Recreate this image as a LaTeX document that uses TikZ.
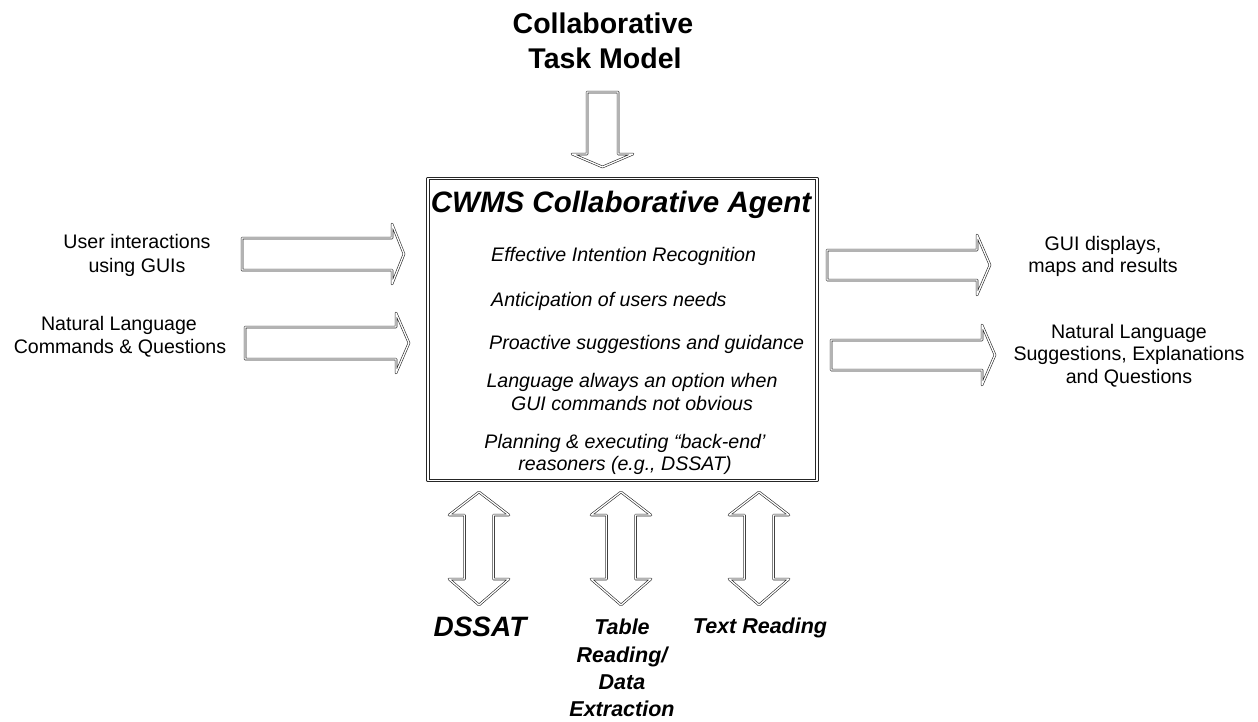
\documentclass[tikz,border=0pt]{standalone}
\usepackage{fontspec}
\setmainfont{Liberation Sans}
\begin{document}
\begin{tikzpicture}[x=1pt,y=-1pt,
  blk/.style={draw=black!85, line width=0.6pt, double=white, double distance=1.3pt, line join=round},
  reg/.style={anchor=base, inner sep=0pt, font=\fontsize{19.6}{22}\selectfont},
  itm/.style={anchor=base west, inner sep=0pt, font=\fontsize{19.6}{22}\selectfont\itshape},
  itc/.style={anchor=base, inner sep=0pt, font=\fontsize{19.6}{22}\selectfont\itshape},
  bl/.style={anchor=base, inner sep=0pt, font=\fontsize{21.5}{26}\selectfont\bfseries\itshape}]
\useasboundingbox (0,0) rectangle (1258,721);
% main box
\node[blk, double distance=1.8pt, line width=0.7pt, minimum width=389pt, minimum height=302pt, inner sep=0pt] (agent) at (622.5,329.5) {};
\node[anchor=base, inner sep=0pt, font=\fontsize{29.5}{34}\selectfont\bfseries\itshape] (title) at (621,212) {CWMS Collaborative Agent};
\node[itm] (i1) at (491,261) {Effective Intention Recognition};
\node[itm] (i2) at (491,306) {Anticipation of users needs};
\node[itm] (i3) at (489,349) {Proactive suggestions and guidance};
\node[itc] (i4a) at (632,387) {Language always an option when};
\node[itc] (i4b) at (632,410) {GUI commands not obvious};
\node[itc] (i5a) at (625,448) {Planning \& executing “back-end’};
\node[itc] (i5b) at (625,470) {reasoners (e.g., DSSAT)};
% top
\node[anchor=base, inner sep=0pt, font=\fontsize{28.5}{34}\selectfont\bfseries] (t1) at (603,33) {Collaborative};
\node[anchor=base, inner sep=0pt, font=\fontsize{28.5}{34}\selectfont\bfseries] (t2) at (605,68) {Task Model};
\draw[blk] (587,92)--(618,92)--(618,154)--(633,154)--(602.5,167)--(572,154)--(587,154)--cycle;
% left
\node[reg] (l1a) at (137,248) {User interactions};
\node[reg] (l1b) at (137,272) {using GUIs};
\node[reg] (l2a) at (119,330) {Natural Language};
\node[reg] (l2b) at (120,353) {Commands \& Questions};
\draw[blk] (242,238)--(392,238)--(392,224)--(404,254)--(392,284)--(392,270)--(242,270)--cycle;
\draw[blk] (245,327)--(396,327)--(396,313)--(409,343)--(396,373)--(396,359)--(245,359)--cycle;
% right
\draw[blk] (827,250)--(977,250)--(977,235)--(990,265)--(977,295)--(977,280)--(827,280)--cycle;
\draw[blk] (831,340)--(982,340)--(982,325)--(995,355)--(982,385)--(982,370)--(831,370)--cycle;
\node[reg] (r1a) at (1103,250) {GUI displays,};
\node[reg] (r1b) at (1103,272) {maps and results};
\node[reg] (r2a) at (1129,338) {Natural Language};
\node[reg] (r2b) at (1129,360) {Suggestions, Explanations};
\node[reg] (r2c) at (1129,383) {and Questions};
% bottom
\foreach \c in {479,621,759}{
  \draw[blk] (\c,492)--(\c+30,515)--(\c+14.5,515)--(\c+14.5,579)--(\c+30,579)--(\c,605)--(\c-30,579)--(\c-14.5,579)--(\c-14.5,515)--(\c-30,515)--cycle;
}
\node[anchor=base, inner sep=0pt, font=\fontsize{28}{32}\selectfont\bfseries\itshape] (b1) at (480,636) {DSSAT};
\node[bl] (b2a) at (622,634) {Table};
\node[bl] (b2b) at (622,662) {Reading/};
\node[bl] (b2c) at (622,689) {Data};
\node[bl] (b2d) at (622,716) {Extraction};
\node[bl] (b3) at (760,633) {Text Reading};
\end{tikzpicture}
\end{document}
